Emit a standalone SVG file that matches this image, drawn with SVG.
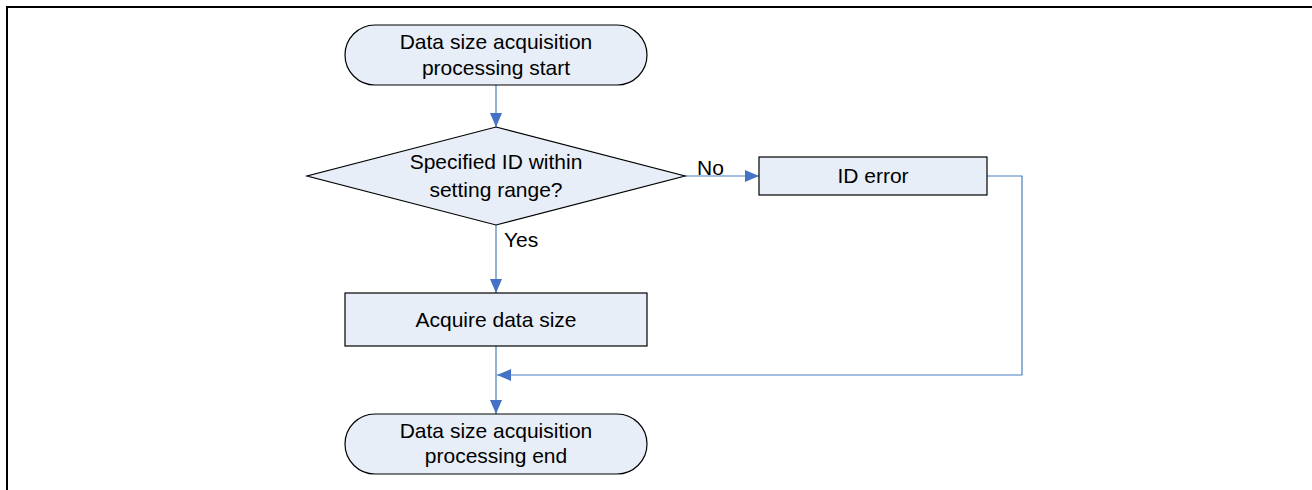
<svg xmlns="http://www.w3.org/2000/svg" width="1312" height="490" viewBox="0 0 1312 490">
  <style>
    .shape { fill: #E8EEF7; stroke: #000000; stroke-width: 1.2; }
    .label { font-family: "Liberation Sans", Arial, sans-serif; font-size: 21px; fill: #000000; text-anchor: middle; }
    .tag { font-family: "Liberation Sans", Arial, sans-serif; font-size: 21px; fill: #000000; }
    .conn { fill: none; stroke: #4A7EBB; stroke-width: 1.2; }
  </style>
  <defs>
    <marker id="arrow" viewBox="0 0 14 12" refX="14" refY="6" markerWidth="14" markerHeight="12" markerUnits="userSpaceOnUse" orient="auto">
      <path d="M0,0 L14,6 L0,12 Z" fill="#4472C4"/>
    </marker>
  </defs>
  <rect width="1312" height="490" fill="#FFFFFF"/>
  <!-- frame -->
  <path d="M7,490 L7,7 L1312,7" fill="none" stroke="#000000" stroke-width="2"/>

  <g id="connectors">
    <path class="conn" d="M496,85 L496,127" marker-end="url(#arrow)"/>
    <path class="conn" d="M496,225 L496,293" marker-end="url(#arrow)"/>
    <path class="conn" d="M685,176 L759,176" marker-end="url(#arrow)"/>
    <path class="conn" d="M496,346 L496,414" marker-end="url(#arrow)"/>
    <path class="conn" d="M987,176 L1022,176 L1022,375 L497,375" marker-end="url(#arrow)"/>
    <text class="tag" x="697" y="175">No</text>
    <text class="tag" x="504" y="247">Yes</text>
  </g>

  <g id="start">
    <rect class="shape" x="345" y="25" width="302" height="60" rx="30" ry="30"/>
    <text class="label" x="496" y="49">Data size acquisition</text>
    <text class="label" x="496" y="75">processing start</text>
  </g>

  <g id="check-id">
    <polygon class="shape" points="496,127 685,176 496,225 307,176"/>
    <text class="label" x="496" y="169">Specified ID within</text>
    <text class="label" x="496" y="197">setting range?</text>
  </g>

  <g id="id-error">
    <rect class="shape" x="759" y="157" width="228" height="38"/>
    <text class="label" x="873" y="183">ID error</text>
  </g>

  <g id="acquire">
    <rect class="shape" x="345" y="293" width="302" height="53"/>
    <text class="label" x="496" y="327">Acquire data size</text>
  </g>

  <g id="end">
    <rect class="shape" x="345" y="414" width="302" height="60" rx="30" ry="30"/>
    <text class="label" x="496" y="438">Data size acquisition</text>
    <text class="label" x="496" y="463">processing end</text>
  </g>
</svg>
